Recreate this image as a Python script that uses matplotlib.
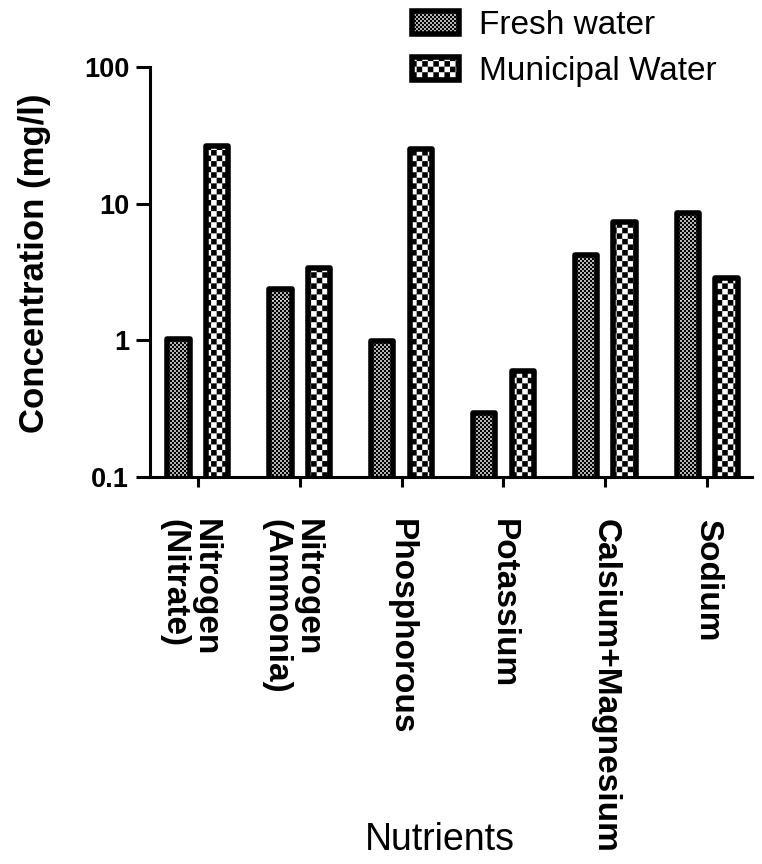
import numpy as np
import matplotlib
matplotlib.use("Agg")
import matplotlib.pyplot as plt
import matplotlib.hatch as mhatch
import matplotlib.transforms as mtransforms
from matplotlib.path import Path
from matplotlib.ticker import NullLocator

# ---------------- data ----------------
categories = ["Nitrogen\n(Nitrate)", "Nitrogen\n(Ammonia)", "Phosphorous",
              "Potassium", "Calsium+Magnesium", "Sodium"]
fresh_water = [1.02, 2.38, 0.99, 0.294, 4.19, 8.49]
municipal_water = [26.6, 3.37, 25.3, 0.596, 7.3, 2.84]
series_labels = ["Fresh water", "Municipal Water"]
ytick_values = [0.1, 1, 10, 100]
ytick_labels = ["0.1", "1", "10", "100"]


# ---------------- checkerboard hatch patterns ----------------
def _make_checker(char, cells, grow):
    class Checker(mhatch.HatchPatternBase):
        filled = True

        def __init__(self, hatch, density):
            self.on = hatch.count(char) > 0
            self.num_vertices = (cells * cells // 2) * 5 if self.on else 0

        def set_vertices_and_codes(self, vertices, codes):
            s = 1.0 / cells
            g = s * grow
            k = 0
            for i in range(cells):
                for j in range(cells):
                    if (i + j) % 2 == 0:
                        cx, cy = (i + 0.5) * s, (j + 0.5) * s
                        vertices[k:k + 5] = [(cx - g / 2, cy - g / 2), (cx + g / 2, cy - g / 2),
                                             (cx + g / 2, cy + g / 2), (cx - g / 2, cy + g / 2),
                                             (cx - g / 2, cy - g / 2)]
                        codes[k:k + 5] = [Path.MOVETO, Path.LINETO, Path.LINETO,
                                          Path.LINETO, Path.CLOSEPOLY]
                        k += 5
    return Checker


mhatch._hatch_types = [_make_checker("o", 50, 1.15), _make_checker("O", 18, 1.0)]

plt.rcParams["font.family"] = ["Liberation Sans", "DejaVu Sans"]
plt.rcParams["hatch.linewidth"] = 0.0
plt.rcParams["hatch.color"] = "black"

fig = plt.figure(figsize=(7.62, 8.64), dpi=100)
W, H = 762, 864
ax = fig.add_axes([150 / W, 1 - 477 / H, 602 / W, 410 / H])

x = np.arange(len(categories))
width = 0.22
off = 0.19
ax.set_yscale("log")
ax.bar(x - off, fresh_water, width, color="white", edgecolor="black",
       linewidth=4, hatch="o", joinstyle="round", label=series_labels[0], zorder=3)
ax.bar(x + off, municipal_water, width, color="white", edgecolor="black",
       linewidth=4, hatch="O", joinstyle="round", label=series_labels[1], zorder=3)

ax.set_ylim(0.1, 100)
ax.set_xlim(-0.47, 5.44)
ax.set_yticks(ytick_values, labels=ytick_labels)
ax.yaxis.set_minor_locator(NullLocator())
ax.set_xticks(x, labels=categories)

for s in ["top", "right"]:
    ax.spines[s].set_visible(False)
for s in ["left", "bottom"]:
    ax.spines[s].set_linewidth(2.2)
    ax.spines[s].set_zorder(4)

ax.tick_params(axis="y", length=10, width=2.2, labelsize=19.5, pad=5)
ax.tick_params(axis="x", length=7, width=2.2, labelsize=24, pad=23)
for lab in ax.get_yticklabels():
    lab.set_fontweight("bold")
shift = mtransforms.ScaledTranslation(-8 / 100, 0, fig.dpi_scale_trans)
for lab in ax.get_xticklabels():
    lab.set_fontweight("bold")
    lab.set_rotation(270)
    lab.set_va("top")
    lab.set_ha("center")
    lab.set_multialignment("left")
    lab.set_linespacing(1.0)
    if "\n" in lab.get_text():
        lab.set_transform(lab.get_transform() + shift)

ax.set_ylabel("Concentration (mg/l)", fontsize=25, fontweight="bold")
ax.yaxis.set_label_coords(-99 / 602, (477 - 263) / 410)
fig.text(440 / W, 1 - 840 / H, "Nutrients", fontsize=27, ha="center", va="center")

leg = fig.legend(loc="upper left", bbox_to_anchor=(412 / W, 1 - 10 / H), frameon=False,
                 fontsize=24, handlelength=1.4, handleheight=0.68, handletextpad=0.6,
                 labelspacing=0.45, borderpad=0, borderaxespad=0)

fig.savefig("out.png", dpi=100)
